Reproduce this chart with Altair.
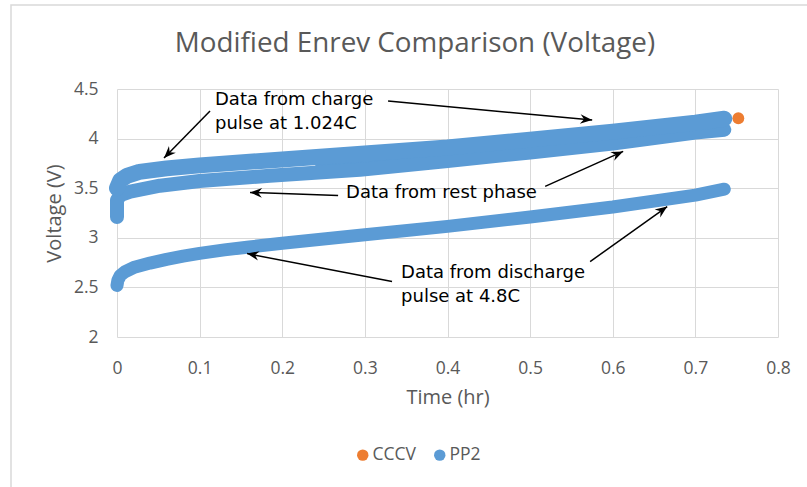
import math
import altair as alt
import pandas as pd

# ---------------- data ----------------
chart_title = "Modified Enrev Comparison (Voltage)"
# PP2 - charge pulse points (hr, V)
charge_t = [0.0, 0.004, 0.012, 0.027, 0.06, 0.1, 0.2, 0.3, 0.4, 0.5, 0.6, 0.7, 0.735]
charge_v = [3.50, 3.58, 3.625, 3.665, 3.70, 3.73, 3.79, 3.85, 3.91, 3.99, 4.07, 4.16, 4.20]
# PP2 - rest phase points
rest_t = [0.0, 0.0, 0.004, 0.016, 0.052, 0.1, 0.185, 0.294, 0.4, 0.5, 0.6, 0.7, 0.735]
rest_v = [3.21, 3.38, 3.43, 3.465, 3.525, 3.572, 3.625, 3.685, 3.775, 3.86, 3.95, 4.06, 4.09]
# PP2 - discharge pulse points
discharge_t = [0.0, 0.001, 0.004, 0.01, 0.02, 0.04, 0.06, 0.08, 0.1, 0.13, 0.16, 0.2,
               0.3, 0.4, 0.5, 0.6, 0.7, 0.735]
discharge_v = [2.52, 2.57, 2.62, 2.66, 2.70, 2.745, 2.783, 2.815, 2.843, 2.878, 2.908, 2.945,
               3.03, 3.115, 3.21, 3.31, 3.43, 3.49]
# PP2 - relaxation points filling the space between charge and rest (later part)
band_t = [0.24, 0.3, 0.4, 0.5, 0.6, 0.7, 0.735]
band_hi = [3.815, 3.85, 3.91, 3.99, 4.07, 4.16, 4.20]
band_lo = [3.655, 3.69, 3.775, 3.86, 3.95, 4.06, 4.09]
# CCCV visible points
cccv_t = [0.736, 0.752]
cccv_v = [4.20, 4.205]

series_names = ["CCCV", "PP2"]
series_colors = ["#ED7D31", "#5B9BD5"]
x_ticks = [0, 0.1, 0.2, 0.3, 0.4, 0.5, 0.6, 0.7, 0.8]
y_ticks = [2, 2.5, 3, 3.5, 4, 4.5]

# annotations (text lines, data units)
ann_text = ["Data from charge", "pulse at 1.024C", "Data from rest phase",
            "Data from discharge", "pulse at 4.8C"]
ann_t = [0.1186, 0.1186, 0.2772, 0.3438, 0.3438]
ann_v = [4.389, 4.147, 3.452, 2.645, 2.403]
# arrows: tail -> head
arr_t0 = [0.1126, 0.3281, 0.2676, 0.5182, 0.3329, 0.5726]
arr_v0 = [4.279, 4.379, 3.427, 3.518, 2.559, 2.760]
arr_t1 = [0.0569, 0.5751, 0.1610, 0.6126, 0.1574, 0.6659]
arr_v1 = [3.805, 4.187, 3.457, 3.871, 2.841, 3.315]

# ---------------- layout ----------------
W, H = 661, 248
BLUE = series_colors[1]
GRAY = "#595959"
FONT = "Open Sans"

xscale = alt.Scale(domain=[0, 0.8], nice=False, zero=False)
yscale = alt.Scale(domain=[2, 4.5], nice=False, zero=False)
xaxis = alt.Axis(values=x_ticks, title="Time (hr)", labelFontSize=17.5, titleFontSize=20,
                 labelPadding=22, titlePadding=11, grid=True, labelFlush=False,
                 labelExpr="datum.value == 0 ? '0' : format(datum.value, '.1f')")
yaxis = alt.Axis(values=y_ticks, title="Voltage (V)", labelFontSize=17.5, titleFontSize=20,
                 labelPadding=19, titlePadding=9, grid=True, labelFlush=False,
                 labelExpr="datum.value == 2 || datum.value == 3 || datum.value == 4 ? format(datum.value, 'd') : format(datum.value, '.1f')")


def X(f):
    return alt.X(f, type="quantitative", scale=xscale, axis=xaxis)


def Y(f):
    return alt.Y(f, type="quantitative", scale=yscale, axis=yaxis)


def curve(ts, vs):
    return pd.DataFrame({"t": ts, "v": vs, "i": list(range(len(ts)))})


line_kw = dict(color=BLUE, strokeCap="round", strokeJoin="round")

border = alt.Chart(pd.DataFrame({"a": [0]})).mark_rect(
    filled=False, stroke="#D9D9D9", strokeWidth=1.5
).encode(x=alt.value(-106), x2=alt.value(730), y=alt.value(-84), y2=alt.value(430))

title_mark = alt.Chart(pd.DataFrame({"txt": [chart_title]})).mark_text(
    font=FONT, fontSize=27.8, color=GRAY, align="center", baseline="middle"
).encode(x=alt.value(298), y=alt.value(-45), text="txt:N")

cccv_df = pd.DataFrame({"t": cccv_t, "v": cccv_v, "series": ["CCCV"] * len(cccv_t)})
cccv = alt.Chart(cccv_df).mark_circle(size=140, opacity=1).encode(
    x=X("t"), y=Y("v"),
    color=alt.Color("series:N", scale=alt.Scale(domain=series_names, range=series_colors),
                    legend=alt.Legend(title=None, orient="none", legendX=237, legendY=357,
                                      direction="horizontal", symbolType="circle",
                                      symbolSize=130, labelFontSize=17.5, labelFont=FONT,
                                      labelColor=GRAY, columnPadding=14, labelOffset=1,
                                      padding=0, symbolStrokeWidth=0)),
)

band_df = pd.DataFrame({"t": band_t, "hi": band_hi, "lo": band_lo})
band = alt.Chart(band_df).mark_area(color=BLUE, opacity=1).encode(
    x=X("t"), y=Y("hi"), y2="lo")

discharge = alt.Chart(curve(discharge_t, discharge_v)).mark_line(strokeWidth=13, **line_kw).encode(
    x=X("t"), y=Y("v"), order="i:Q")
rest = alt.Chart(curve(rest_t, rest_v)).mark_line(strokeWidth=14, **line_kw).encode(
    x=X("t"), y=Y("v"), order="i:Q")
charge = alt.Chart(curve(charge_t, charge_v)).mark_line(strokeWidth=16, **line_kw).encode(
    x=X("t"), y=Y("v"), order="i:Q")

px_x = W / 0.8
px_y = H / 2.5
angles = [math.degrees(math.atan2(-(v1 - v0) * px_y, (t1 - t0) * px_x)) % 360
          for t0, v0, t1, v1 in zip(arr_t0, arr_v0, arr_t1, arr_v1)]
arr_df = pd.DataFrame({"t0": arr_t0, "v0": arr_v0, "t1": arr_t1, "v1": arr_v1, "ang": angles})
arrows = alt.Chart(arr_df).mark_rule(color="black", strokeWidth=1.5).encode(
    x=X("t0"), y=Y("v0"), x2="t1", y2="v1")
heads = alt.Chart(arr_df).mark_point(
    shape="M0,0 L-2,-0.8 L-1.35,0 L-2,0.8 Z", filled=True, size=144, color="black", opacity=1
).encode(x=X("t1"), y=Y("v1"), angle=alt.Angle("ang:Q", scale=None))

ann_df = pd.DataFrame({"t": ann_t, "v": ann_v, "txt": ann_text})
texts = alt.Chart(ann_df).mark_text(
    align="left", baseline="middle", font="DejaVu Sans", fontSize=18, color="black"
).encode(x=X("t"), y=Y("v"), text="txt:N")

chart = alt.layer(border, title_mark, cccv, band, discharge, rest, charge, arrows, heads, texts).properties(
    width=W, height=H,
    autosize=alt.AutoSizeParams(type="none"),
    padding={"left": 117, "top": 89, "right": 29, "bottom": 150},
    background="white",
).configure_view(stroke=None).configure_axis(
    gridColor="#D9D9D9", gridWidth=1, domain=False, ticks=False,
    labelColor=GRAY, titleColor=GRAY, labelFont=FONT, titleFont=FONT, titleFontWeight="normal"
)

chart.save("out.html", embed_options={"renderer": "svg", "actions": False})
